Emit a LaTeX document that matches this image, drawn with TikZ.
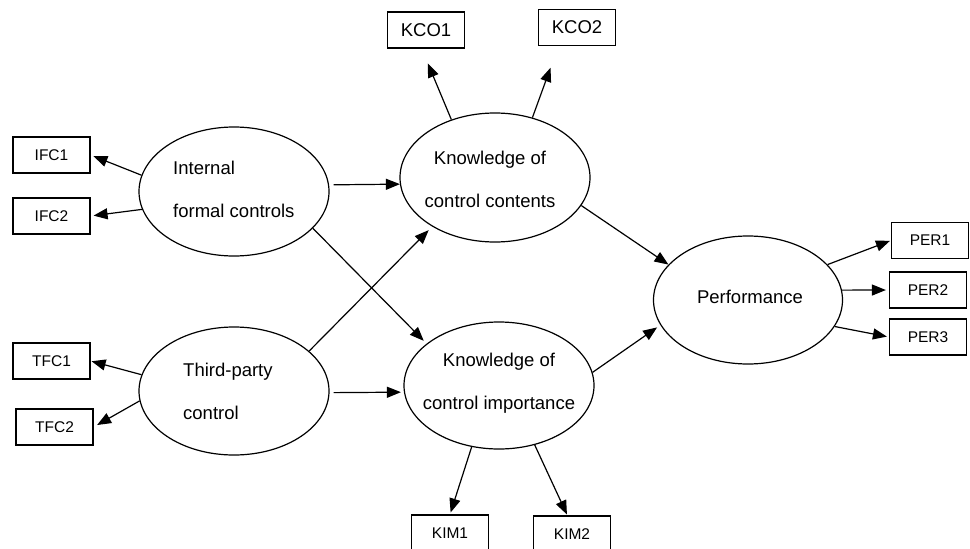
\documentclass[tikz,border=0pt]{standalone}
\usepackage{fontspec}
\setmainfont{Liberation Sans}
\usetikzlibrary{arrows.meta,shapes.geometric}

\begin{document}
\begin{tikzpicture}[x=1pt, y=-1pt, >={Triangle[length=14pt,width=11pt]},
    latent/.style={ellipse, draw, line width=1.2pt, inner sep=0pt},
    latentText/.style={inner sep=0pt, font=\fontsize{18.5}{43}\selectfont},
    item/.style={draw, line width=1.2pt, minimum width=77pt, minimum height=36pt,
        inner sep=0pt, font=\fontsize{15.5}{18}\selectfont},
    link/.style={->, line width=1.2pt}]
    \useasboundingbox (0,0) rectangle (970,549);
    \clip (0,0) rectangle (970,549);

    % Latent constructs
    \node[latent, minimum width=190pt, minimum height=129pt] (ifc) at (234,191.5) {};
    \node[latent, minimum width=190pt, minimum height=128pt] (tfc) at (234,391) {};
    \node[latent, minimum width=190pt, minimum height=129pt] (kcc) at (495,177.5) {};
    \node[latent, minimum width=190pt, minimum height=127pt] (kci) at (499,385.5) {};
    \node[latent, minimum width=189pt, minimum height=128pt] (per) at (748,300) {};

    % Construct names
    \node[latentText, anchor=west, align=left] (ifcText) at (173,189.5) {Internal\\formal controls};
    \node[latentText, anchor=west, align=left] (tfcText) at (183,391) {Third-party\\control};
    \node[latentText, align=center] (kccText) at (490,179.5) {Knowledge of\\control contents};
    \node[latentText, align=center] (kciText) at (499,383.5) {Knowledge of\\control importance};
    \node[latentText] (perText) at (750,297) {Performance};

    % Indicators
    \node[item] (ifc1) at (51.5,155) {IFC1};
    \node[item] (ifc2) at (51.5,216) {IFC2};
    \node[item] (tfc1) at (51.5,361) {TFC1};
    \node[item] (tfc2) at (54.5,427) {TFC2};
    \node[item, font=\fontsize{18.5}{20}\selectfont] (kco1) at (426,30) {KCO1};
    \node[item, font=\fontsize{18.5}{20}\selectfont] (kco2) at (577,27.5) {KCO2};
    \node[item] (kim1) at (450,533) {KIM1};
    \node[item] (kim2) at (572,534) {KIM2};
    \node[item] (per1) at (930,240.5) {PER1};
    \node[item] (per2) at (928,290) {PER2};
    \node[item] (per3) at (928,337) {PER3};

    % Measurement arrows
    \draw[link, shorten >=3pt] (ifc.170) -- (ifc1.east);
    \draw[link, shorten >=3pt] (ifc.191) -- (ifc2.east);
    \draw[link, shorten >=1pt] (tfc.170) -- (tfc1.east);
    \draw[link, shorten >=4pt] (tfc.186) -- (tfc2.east);
    \draw[link, shorten >=16pt] (kcc.127) -- (kco1.257);
    \draw[link, shorten >=23pt] (kcc.58) -- (kco2.225);
    \draw[link, shorten >=2pt] (kci.246) -- (kim1.north);
    \draw[link, shorten >=1pt] (kci.301) -- (kim2.104);
    \draw[link, shorten >=1pt] (per.24) -- (per1.west);
    \draw[link, shorten >=3pt] (per.6) -- (per2.west);
    \draw[link, shorten >=2pt] (per.343) -- (per3.west);

    % Structural paths
    \draw[link, shorten <=4.5pt] (ifc.4.5) -- (kcc.184);
    \draw[link, shorten <=4pt, shorten >=3pt] (tfc.359) -- (kci.184.5);
    \draw[link, shorten >=4pt] (ifc.335) -- (kci.150.5);
    \draw[link, shorten >=5pt] (tfc.28) -- (kcc.218.6);
    \draw[link] (kcc.342.5) -- (per.156);
    \draw[link, shorten >=4pt] (kci.8) -- (per.196.5);
\end{tikzpicture}
\end{document}
